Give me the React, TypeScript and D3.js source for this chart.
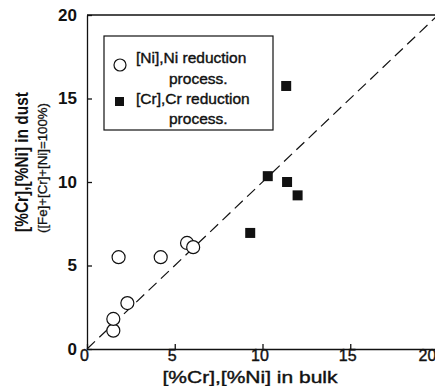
import React, { useEffect, useRef } from 'react';
import * as d3 from 'd3';

// values
const ticks = [0, 5, 10, 15, 20];
const niBulk = [1.5, 1.5, 2.3, 1.8, 4.2, 5.7, 6.05];
const niDust = [1.1, 1.8, 2.75, 5.5, 5.5, 6.35, 6.1];
const crBulk = [11.35, 10.3, 11.4, 12.0, 9.3];
const crDust = [15.75, 10.35, 10.0, 9.2, 6.95];
const legendLines = [
  ['[Ni],Ni reduction', 'process.'],
  ['[Cr],Cr reduction', 'process.'],
];
const xTitle = '[%Cr],[%Ni] in bulk';
const yTitle = '[%Cr],[%Ni] in dust';
const ySubTitle = '([Fe]+[Cr]+[Ni]=100%)';

const W = 435;
const H = 386;
const FONT = '"Liberation Sans", Arial, Helvetica, sans-serif';
const INK = '#111';

function App() {
  const svgRef = useRef<SVGSVGElement>(null);

  useEffect(() => {
    const svg = d3.select(svgRef.current);
    svg.selectAll('*').remove();

    const x = d3.scaleLinear().domain([0, 20]).range([87, 438]);
    const y = d3.scaleLinear().domain([0, 20]).range([349, 15]);

    // axes, ticks pointing inward
    const xAxis = svg.append('g')
      .attr('transform', `translate(0,${y(0)})`)
      .call(d3.axisBottom(x).tickValues(ticks).tickSizeInner(-5).tickSizeOuter(0).tickPadding(1));
    xAxis.selectAll('text')
      .attr('dx', (d: any) => (d === 20 ? -11 : -3))
      .style('font-size', '16px')
      .style('font-family', FONT)
      .attr('fill', INK)
      .attr('stroke', INK)
      .attr('stroke-width', 0.4);

    const yAxis = svg.append('g')
      .attr('transform', `translate(${x(0)},0)`)
      .call(d3.axisLeft(y).tickValues(ticks).tickSizeInner(-5).tickSizeOuter(0).tickPadding(10));
    yAxis.selectAll('text')
      .style('font-size', '17px')
      .style('font-weight', 'bold')
      .style('font-family', FONT)
      .attr('fill', INK);

    svg.selectAll('.domain, .tick line').attr('stroke', INK).attr('stroke-width', 1.3);

    // top frame line
    svg.append('line')
      .attr('x1', x(0)).attr('x2', x(20))
      .attr('y1', y(20)).attr('y2', y(20))
      .attr('stroke', INK).attr('stroke-width', 1.3);

    // y = x reference line
    svg.append('line')
      .attr('x1', x(0)).attr('y1', y(0))
      .attr('x2', x(20)).attr('y2', y(20))
      .attr('stroke', INK).attr('stroke-width', 1.2)
      .attr('stroke-dasharray', '11 6');

    // Ni points - open circles
    svg.append('g')
      .selectAll('circle')
      .data(niBulk)
      .enter()
      .append('circle')
      .attr('cx', d => x(d))
      .attr('cy', (d, i) => y(niDust[i]))
      .attr('r', 6.5)
      .attr('fill', 'white')
      .attr('stroke', INK)
      .attr('stroke-width', 1.2);

    // Cr points - filled squares
    const s = 10;
    svg.append('g')
      .selectAll('rect')
      .data(crBulk)
      .enter()
      .append('rect')
      .attr('x', d => x(d) - s / 2)
      .attr('y', (d, i) => y(crDust[i]) - s / 2)
      .attr('width', s)
      .attr('height', s)
      .attr('fill', INK);

    // legend
    const lg = svg.append('g');
    lg.append('rect')
      .attr('x', 104).attr('y', 36)
      .attr('width', 169).attr('height', 94)
      .attr('fill', 'white')
      .attr('stroke', INK).attr('stroke-width', 1.2);
    lg.append('circle')
      .attr('cx', 120).attr('cy', 65).attr('r', 6)
      .attr('fill', 'white').attr('stroke', INK).attr('stroke-width', 1.2);
    lg.append('rect')
      .attr('x', 115).attr('y', 97).attr('width', 9).attr('height', 9)
      .attr('fill', INK);
    const baselines = [[63, 84], [104, 124]];
    legendLines.forEach((lines, i) => {
      lines.forEach((t, j) => {
        lg.append('text')
          .attr('x', j === 0 ? 136 : 169)
          .attr('y', baselines[i][j])
          .style('font-size', '15.5px')
          .style('font-family', FONT)
          .attr('fill', INK)
          .attr('stroke', INK)
          .attr('stroke-width', 0.4)
          .text(t);
      });
    });

    // axis titles
    svg.append('text')
      .attr('x', 250).attr('y', 383)
      .attr('text-anchor', 'middle')
      .attr('textLength', 175)
      .attr('lengthAdjust', 'spacingAndGlyphs')
      .style('font-size', '17px')
      .style('font-family', FONT)
      .attr('fill', INK)
      .attr('stroke', INK)
      .attr('stroke-width', 0.4)
      .text(xTitle);

    svg.append('text')
      .attr('transform', 'translate(28,162) rotate(-90)')
      .attr('text-anchor', 'middle')
      .attr('textLength', 140)
      .attr('lengthAdjust', 'spacingAndGlyphs')
      .style('font-size', '18px')
      .style('font-weight', 'bold')
      .style('font-family', FONT)
      .attr('fill', INK)
      .text(yTitle);

    svg.append('text')
      .attr('transform', 'translate(47,168) rotate(-90)')
      .attr('text-anchor', 'middle')
      .attr('textLength', 130)
      .attr('lengthAdjust', 'spacingAndGlyphs')
      .style('font-size', '13.5px')
      .style('font-family', FONT)
      .attr('fill', INK)
      .attr('stroke', INK)
      .attr('stroke-width', 0.3)
      .text(ySubTitle);
  }, []);

  return (
    <svg
      ref={svgRef}
      width={W}
      height={H}
      style={{ position: 'absolute', left: 0, top: 0, background: 'white' }}
    />
  );
}

export default App;
